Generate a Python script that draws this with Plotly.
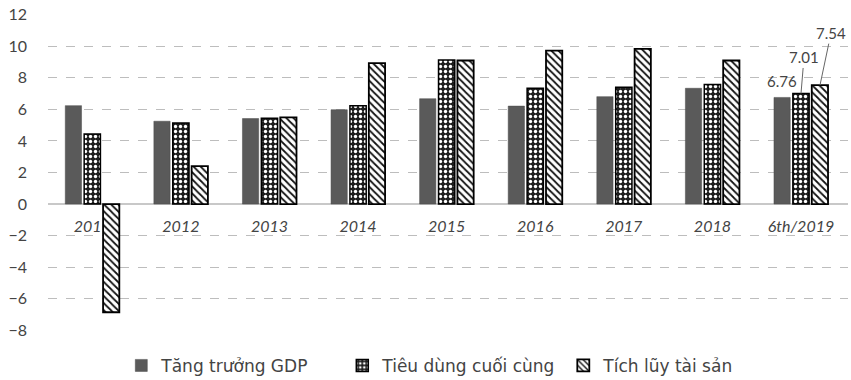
import plotly.graph_objects as go

categories = ["2011", "2012", "2013", "2014", "2015", "2016", "2017", "2018", "6th/2019"]
gdp = [6.24, 5.25, 5.42, 5.98, 6.68, 6.21, 6.81, 7.34, 6.76]
consumption = [4.44, 5.14, 5.44, 6.24, 9.14, 7.34, 7.40, 7.58, 7.01]
assets = [-6.86, 2.40, 5.50, 8.93, 9.10, 9.73, 9.84, 9.10, 7.54]
y_ticks = [-8, -6, -4, -2, 0, 2, 4, 6, 8, 10, 12]
series_names = ["Tăng trưởng GDP", "Tiêu dùng cuối cùng", "Tích lũy tài sản"]

fig = go.Figure()
fig.add_bar(x=categories, y=gdp, name=series_names[0],
            marker=dict(color="#5a5a5a", line=dict(color="#4a4a4a", width=0.5)))
fig.add_bar(x=categories, y=consumption, name=series_names[1],
            marker=dict(color="#1e1e1e",
                        pattern=dict(shape=".", bgcolor="#1e1e1e", fgcolor="white",
                                     size=5, solidity=0.35, fillmode="replace"),
                        line=dict(color="black", width=1.5)))
fig.add_bar(x=categories, y=assets, name=series_names[2],
            marker=dict(color="white",
                        pattern=dict(shape="\\", bgcolor="white", fgcolor="#111111",
                                     size=5, solidity=0.35, fillmode="replace"),
                        line=dict(color="black", width=1.8)))

last = categories[-1]
lab_font = dict(family="Lato, Noto Sans, sans-serif", size=15, color="#444")
fig.add_annotation(x=last, y=gdp[-1], text=f"{gdp[-1]:.2f}", showarrow=False,
                   xshift=-19, yshift=16, font=lab_font)
fig.add_annotation(x=last, y=consumption[-1], text=f"{consumption[-1]:.2f}", showarrow=True,
                   arrowhead=0, arrowwidth=1, arrowcolor="#666", ax=3, ay=-36,
                   standoff=0, font=lab_font)
fig.add_annotation(x=last, y=assets[-1], text=f"{assets[-1]:.2f}", showarrow=True,
                   arrowhead=0, arrowwidth=1, arrowcolor="#666", ax=11, ay=-52,
                   xshift=19, standoff=0, font=lab_font)

fig.update_layout(
    width=851, height=380,
    margin=dict(l=48, r=3, t=14, b=49, autoexpand=False),
    paper_bgcolor="white", plot_bgcolor="white",
    barmode="group", bargap=0.36, bargroupgap=0.14,
    showlegend=True,
    legend=dict(orientation="h", x=0.506, xanchor="center", y=-0.11, yanchor="middle",
                font=dict(family="DejaVu Sans, Noto Sans, sans-serif", size=17, color="#444"),
                itemwidth=30, entrywidth=176),
    xaxis=dict(anchor="free", position=0.366, layer="below traces", automargin=False,
               showgrid=False, showline=False, ticks="",
               tickfont=dict(family="Lato, Noto Sans, sans-serif", size=16,
                             color="#444", style="italic")),
    yaxis=dict(range=[-8.05, 12.05], tickvals=y_ticks, automargin=False,
               showgrid=True, gridcolor="#bdbdbd", griddash="dash", gridwidth=1,
               zeroline=True, zerolinecolor="#c8c8c8", zerolinewidth=1.5,
               ticklabelstandoff=20,
               tickfont=dict(family="Lato, Noto Sans, sans-serif", size=16, color="#444")),
)

fig.write_html("out.html", config={"displayModeBar": False},
               post_script="document.body.style.margin='0';document.body.style.padding='0';")
